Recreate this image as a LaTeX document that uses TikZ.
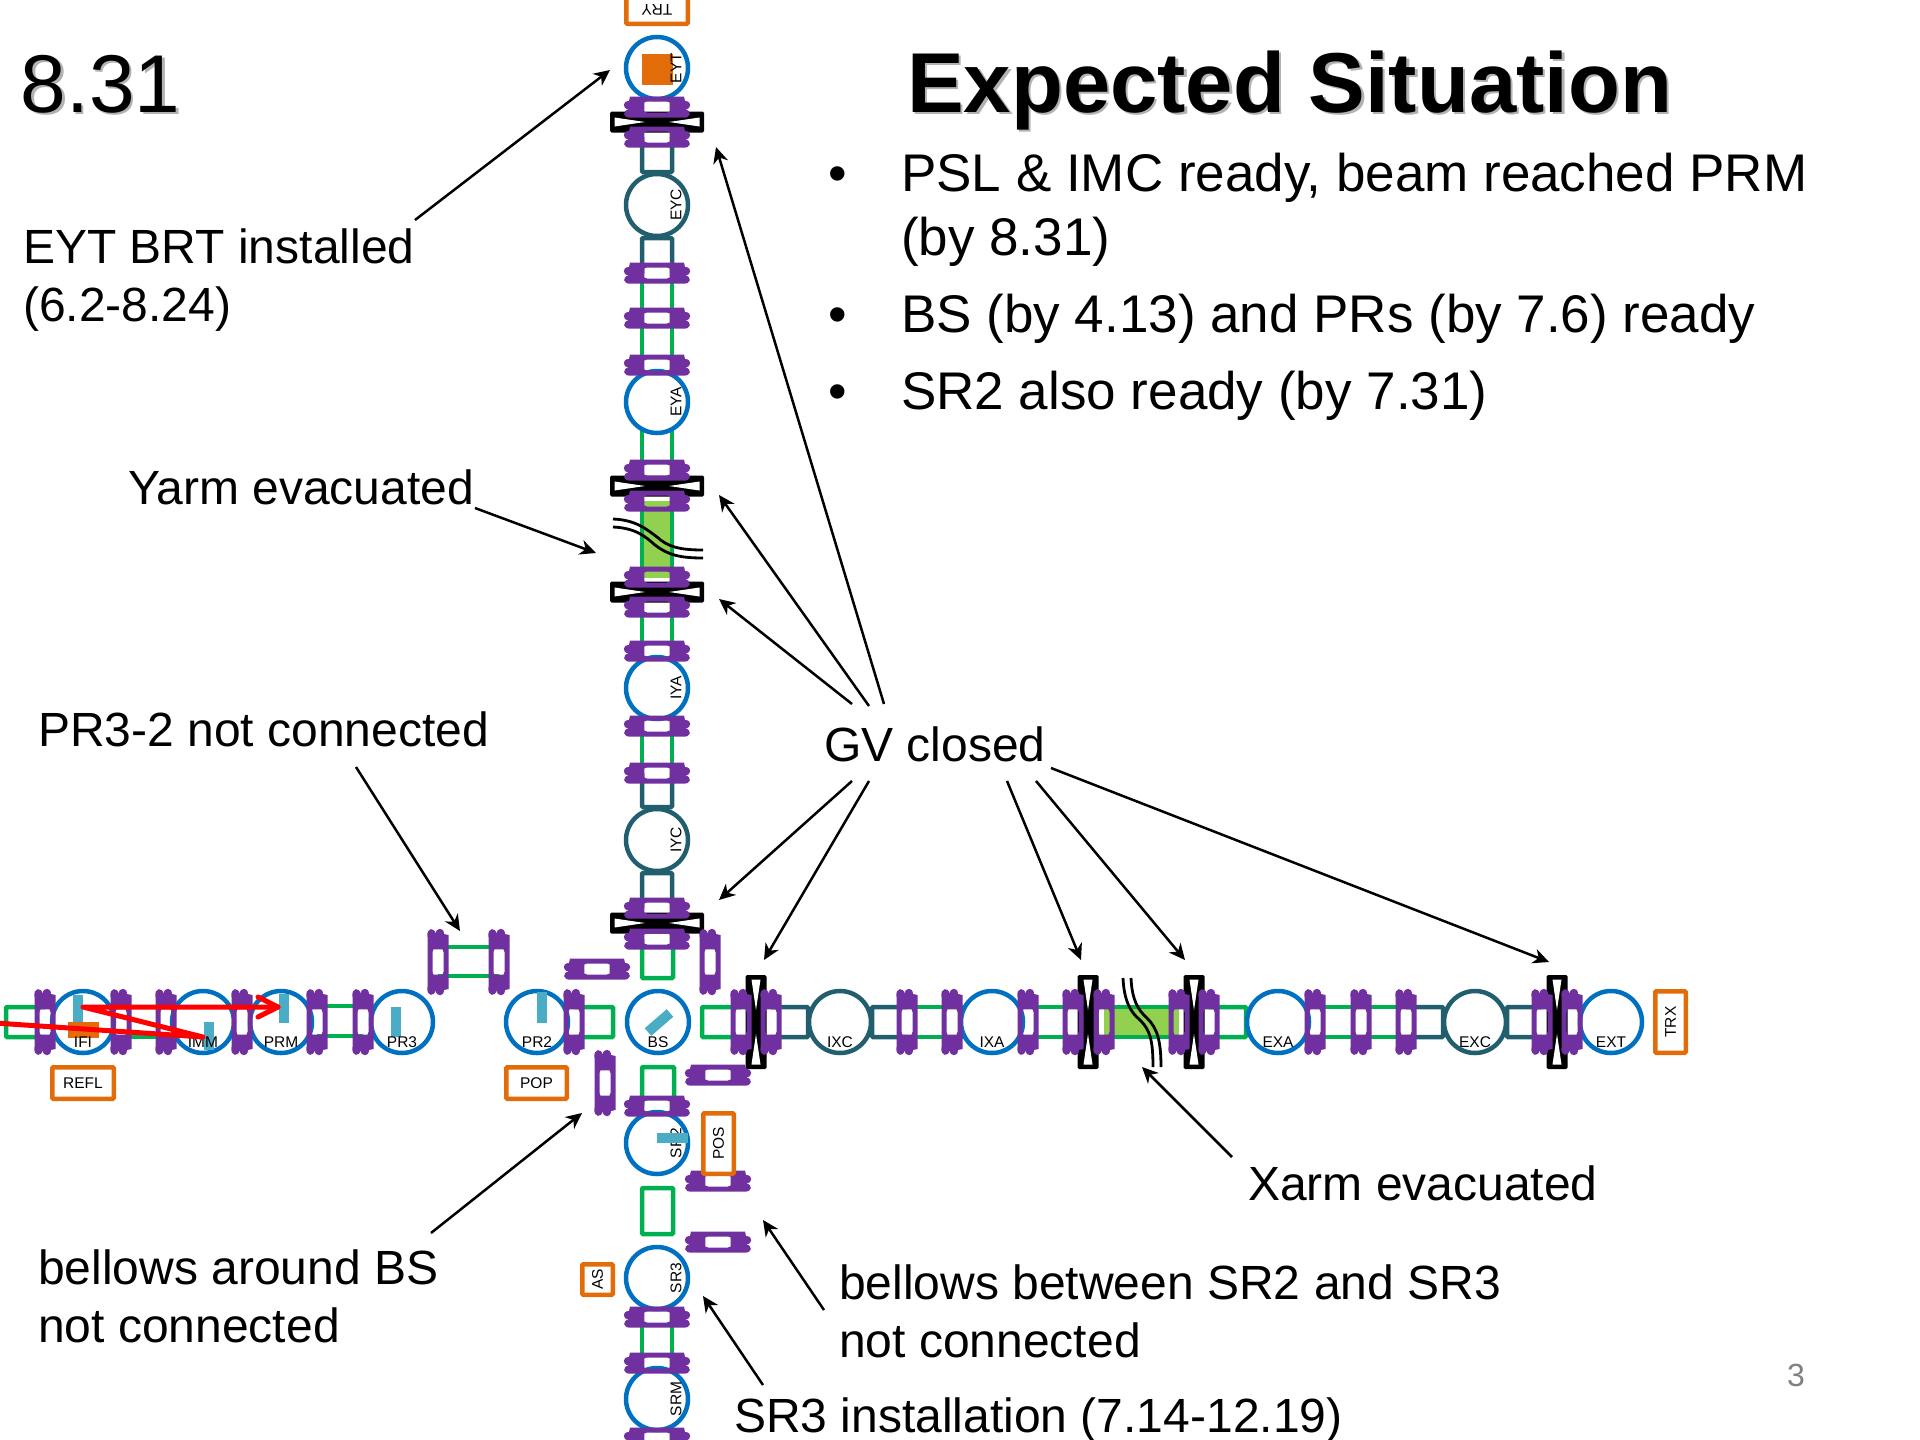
\documentclass[tikz,border=0pt]{standalone}
\usepackage{fontspec}
\setmainfont{Liberation Sans}
\usetikzlibrary{arrows.meta}
\definecolor{cgreen}{HTML}{00B050}
\definecolor{cteal}{HTML}{215F6E}
\definecolor{cblue}{HTML}{0070C0}
\definecolor{cpurple}{HTML}{7030A0}
\definecolor{corange}{HTML}{E36C0A}
\definecolor{ccyan}{HTML}{4BACC6}
\definecolor{clight}{HTML}{92D050}
\tikzset{
  x=1pt,y=-1pt,
  greentube/.style={draw=cgreen,line width=4.5pt,rounded corners=1pt},
  tealtube/.style={draw=cteal,line width=4.5pt,rounded corners=1pt},
  bluecirc/.style={circle,minimum size=62pt,inner sep=0pt,line width=4.5pt,draw=cblue,fill=white},
  tealcirc/.style={circle,minimum size=62pt,inner sep=0pt,line width=4.5pt,draw=cteal,fill=white},
  optlab/.style={inner sep=0pt,font=\fontsize{15.5}{18}\selectfont},
  detbox/.style={draw=corange,fill=white,line width=4.5pt,rounded corners=1pt,inner sep=0pt,font=\fontsize{15.5}{18}\selectfont},
  mirror/.style={fill=ccyan},
  callout/.style={anchor=base west,inner sep=0pt,font=\fontsize{48}{56}\selectfont},
  bullettext/.style={anchor=base west,inner sep=0pt,font=\fontsize{53}{60}\selectfont},
  pointer/.style={draw=black,line width=2.5pt,-{Stealth[length=16pt,width=15pt,inset=5pt]}},
  breakline/.style={draw=black,line width=2.8pt},
  bel/.pic={
    \fill[cpurple,even odd rule]
      (-10.5,-25) .. controls (-12,-35) and (-3,-35) .. (-2.5,-28)
      .. controls (-2,-35) and (6,-35) .. (6,-28) -- (10.5,-27) -- (10.5,27) -- (6,28)
      .. controls (6,35) and (-2,35) .. (-2.5,28)
      .. controls (-3,35) and (-12,35) .. (-10.5,25) -- cycle
      (-4.5,-12.7) -- (4.5,-12.7) -- (5.5,-10) -- (5.5,10) -- (4.5,12.7) -- (-4.5,12.7) -- (-5.5,10) -- (-5.5,-10) -- cycle;
  },
  gatev/.pic={
    \fill[black,rounded corners=1.5pt] (-47,-10.5) rectangle (47,10.5);
    \fill[white] (-42.5,-4.5) -- (-12,0) -- (-42.5,4.5) -- cycle;
    \fill[white] (42.5,-4.5) -- (12,0) -- (42.5,4.5) -- cycle;
  }
}
\begin{document}
\begin{tikzpicture}
\useasboundingbox (0,0) rectangle (1920,1440);
\clip (0,0) rectangle (1920,1440);

% evacuated sections
\fill[clight] (642,501) rectangle (672,578);
\fill[clight] (1104,1007) rectangle (1179,1037);

% horizontal tubes
\draw[greentube] (45,1007) -- (6,1007) -- (6,1037) -- (45,1037);
\foreach \a/\b in {121/166,907/952,952/1073,1104/1179,1315/1406}{
  \draw[greentube] (\a,1007) -- (\b,1007) (\a,1037) -- (\b,1037);}
\draw[greentube] (317,1006) -- (363,1006) (317,1036) -- (363,1036);
\draw[greentube] (438,947) -- (499,947) (438,976) -- (499,976);
\draw[greentube] (574,1007) -- (613,1007) -- (613,1037) -- (574,1037);
\draw[greentube] (741,1007) -- (702,1007) -- (702,1037) -- (741,1037);
\draw[greentube] (1209,1007) -- (1246,1007) -- (1246,1037) -- (1209,1037);
\draw[tealtube] (771,1007) -- (808,1007) -- (808,1037) -- (771,1037);
\draw[tealtube] (907,1007) -- (872,1007) -- (872,1037) -- (907,1037);
\draw[tealtube] (1406,1007) -- (1443,1007) -- (1443,1037) -- (1406,1037);
\draw[tealtube] (1542,1007) -- (1507,1007) -- (1507,1037) -- (1542,1037);

% vertical tubes
\foreach \a/\b in {273/470,501/578,607/773,1317/1363}{
  \draw[greentube] (642,\a) -- (642,\b) (672,\a) -- (672,\b);}
\draw[tealtube] (642,137) -- (642,172) -- (672,172) -- (672,137);
\draw[tealtube] (642,273) -- (642,238) -- (672,238) -- (672,273);
\draw[tealtube] (642,773) -- (642,807) -- (672,807) -- (672,773);
\draw[tealtube] (642,908) -- (642,873) -- (672,873) -- (672,908);
\draw[greentube] (642,939) -- (642,978) -- (673,978) -- (673,939);
\draw[greentube] (642,1106) -- (642,1067) -- (674,1067) -- (674,1106);
\draw[greentube] (642,1188) rectangle (673,1234);

% optics
\foreach \n/\x in {IFI/83,IMM/203,PRM/281,PR3/402,PR2/537,BS/658,IXA/992,EXA/1278,EXT/1611}{
  \node[bluecirc] (\n) at (\x,1022) {};}
\foreach \n/\x in {IXC/840,EXC/1475}{
  \node[tealcirc] (\n) at (\x,1022) {};}
\foreach \n/\y in {EYT/68,EYA/402,IYA/688,SR2/1143,SR3/1278,SRM/1399}{
  \node[bluecirc] (\n) at (657,\y) {};}
\foreach \n/\y in {EYC/205,IYC/840}{
  \node[tealcirc] (\n) at (657,\y) {};}

% mirrors and masses
\fill[mirror] (73,995) rectangle (83,1023);
\fill[corange] (68,1022) rectangle (99,1038);
\fill[mirror] (204,1022) rectangle (214,1050);
\fill[mirror] (279,994) rectangle (289,1023);
\fill[mirror] (391,1007) rectangle (401,1037);
\fill[mirror] (537,992) rectangle (547,1023);
\draw[ccyan,line width=10pt] (648,1032) -- (670,1013);
\fill[corange] (642,54) rectangle (673,85);

% labels of optics
\foreach \n in {IFI,IMM,PRM,PR3,PR2,BS,IXC,IXA,EXA,EXC,EXT}{
  \node[optlab] (l\n) at ([yshift=-20pt]\n.center) {\n};}
\foreach \n in {EYT,EYC,EYA,IYA,IYC,SR2,SR3,SRM}{
  \node[optlab,rotate=90] (l\n) at ([xshift=19pt]\n.center) {\n};}
\fill[mirror] (657,1133) rectangle (688,1143);

% gate valves
\foreach \y in {122,486,592,923}{\pic at (657,\y) {gatev};}
\foreach \x in {756,1088,1194,1557}{\pic[rotate=90] at (\x,1022) {gatev};}

% bellows on the horizontal line
\foreach \x in {45,121,166,242,317,363,574,741,771,907,952,1028,1073,1104,1179,1209,1315,1361,1406,1542,1572}{
  \pic at (\x,1022) {bel};}
\foreach \x/\y in {438/962,499/962,710/962,605/1083}{\pic at (\x,\y) {bel};}
% bellows on the vertical line
\foreach \y in {107,137,273,318,365,470,501,577,607,651,726,773,908,939,1106,1317,1363,1438}{
  \pic[rotate=90] at (657,\y) {bel};}
\foreach \x/\y in {597/969,718/1075,718/1181,718/1242}{\pic[rotate=90] at (\x,\y) {bel};}

% breaks
\draw[breakline] (613,519) .. controls (635,520) and (645,528) .. (657,537) .. controls (668,547) and (680,550) .. (703,550);
\draw[breakline] (613,527) .. controls (635,528) and (645,536) .. (655,545) .. controls (668,555) and (680,558) .. (703,558);
\draw[breakline] (1123,978) .. controls (1124,1000) and (1130,1012) .. (1140,1020) .. controls (1150,1030) and (1153,1040) .. (1153,1067);
\draw[breakline] (1131,978) .. controls (1132,1000) and (1138,1010) .. (1147,1018) .. controls (1157,1028) and (1161,1040) .. (1161,1067);

% detectors
\node[detbox,minimum width=61.5pt,minimum height=31.5pt] (REFL) at (83,1083) {REFL};
\node[detbox,minimum width=60.5pt,minimum height=31.5pt] (POP) at (536.5,1083) {POP};
\node[detbox,minimum width=30.5pt,minimum height=60.5pt] (POSbox) at (718.5,1143.5) {};
\node[optlab,rotate=90] (POS) at (POSbox.center) {POS};
\node[detbox,minimum width=30.5pt,minimum height=30.5pt] (ASbox) at (597.5,1279.5) {};
\node[optlab,rotate=90] (AS) at (ASbox.center) {AS};
\node[detbox,minimum width=30.5pt,minimum height=61.5pt] (TRXbox) at (1670.5,1022) {};
\node[optlab,rotate=90] (TRX) at (TRXbox.center) {TRX};
\node[detbox,minimum width=61.5pt,minimum height=31.5pt] (TRYbox) at (657,8) {};
\node[optlab,rotate=180] (TRY) at (657,10) {TRY};

% beam
\draw[red,line width=5pt,line cap=round,line join=round] (-5,1023) -- (203,1037) -- (83,1007) -- (278,1007);
\draw[red,line width=5pt,line cap=round,line join=round] (258,997) -- (278,1007) -- (258,1017);

% title and bullets
\node[anchor=base west,inner sep=0pt,text=black!30,font=\fontsize{82}{90}\selectfont] at (23,114) {8.31};
\node[anchor=base west,inner sep=0pt,font=\fontsize{82}{90}\selectfont] (date) at (20.5,112) {8.31};
\node[anchor=base west,inner sep=0pt,text=black!30,font=\fontsize{85}{90}\bfseries] at (909.5,114) {Expected Situation};
\node[anchor=base west,inner sep=0pt,font=\fontsize{85}{90}\bfseries] (title) at (907,112) {Expected Situation};
\node[anchor=base,inner sep=0pt,font=\fontsize{53}{60}\selectfont] (b1) at (838,191) {•};
\node[bullettext] (t1a) at (901,191) {PSL \& IMC ready, beam reached PRM};
\node[bullettext] (t1b) at (901,255) {(by 8.31)};
\node[anchor=base,inner sep=0pt,font=\fontsize{53}{60}\selectfont] (b2) at (838,332) {•};
\node[bullettext] (t2) at (901,332) {BS (by 4.13) and PRs (by 7.6) ready};
\node[anchor=base,inner sep=0pt,font=\fontsize{53}{60}\selectfont] (b3) at (838,409) {•};
\node[bullettext] (t3) at (901,409) {SR2 also ready (by 7.31)};

% callouts
\node[callout] (c1a) at (23,263) {EYT BRT installed};
\node[callout] (c1b) at (23,321) {(6.2-8.24)};
\node[callout] (c2) at (128,504) {Yarm evacuated};
\node[callout] (c3) at (38,746) {PR3-2 not connected};
\node[callout] (c4) at (824,761) {GV closed};
\node[callout] (c5) at (1248,1200) {Xarm evacuated};
\node[callout] (c6a) at (38,1284) {bellows around BS};
\node[callout] (c6b) at (38,1342) {not connected};
\node[callout] (c7a) at (839,1299) {bellows between SR2 and SR3};
\node[callout] (c7b) at (839,1357) {not connected};
\node[callout] (c8) at (734,1432) {SR3 installation (7.14-12.19)};
\node[anchor=base,inner sep=0pt,text=black!50,font=\fontsize{32}{38}\selectfont] (pageno) at (1796,1386) {3};

% pointers
\coordinate (s1) at (415,220);   \coordinate (e1) at (610,70);
\coordinate (s2) at (475,508);   \coordinate (e2) at (596,553);
\coordinate (s3) at (356,767);   \coordinate (e3) at (460,931);
\coordinate (s4) at (1232,1157); \coordinate (e4) at (1142,1067);
\coordinate (s5) at (431,1233);  \coordinate (e5) at (582,1113);
\coordinate (s6) at (824,1310);  \coordinate (e6) at (763,1220);
\coordinate (s7) at (763,1385);  \coordinate (e7) at (703,1296);
\foreach \i in {1,...,7}{\draw[pointer] (s\i) -- (e\i);}
\coordinate (g1) at (884,704);  \coordinate (h1) at (716,147);
\coordinate (g2) at (869,706);  \coordinate (h2) at (719,495);
\coordinate (g3) at (852,704);  \coordinate (h3) at (719,599);
\coordinate (g4) at (852,781);  \coordinate (h4) at (719,900);
\coordinate (g5) at (869,781);  \coordinate (h5) at (764,960);
\coordinate (g6) at (1007,781); \coordinate (h6) at (1081,960);
\coordinate (g7) at (1036,781); \coordinate (h7) at (1185,960);
\coordinate (g8) at (1051,768); \coordinate (h8) at (1549,962);
\foreach \i in {1,...,8}{\draw[pointer] (g\i) -- (h\i);}
\end{tikzpicture}
\end{document}
